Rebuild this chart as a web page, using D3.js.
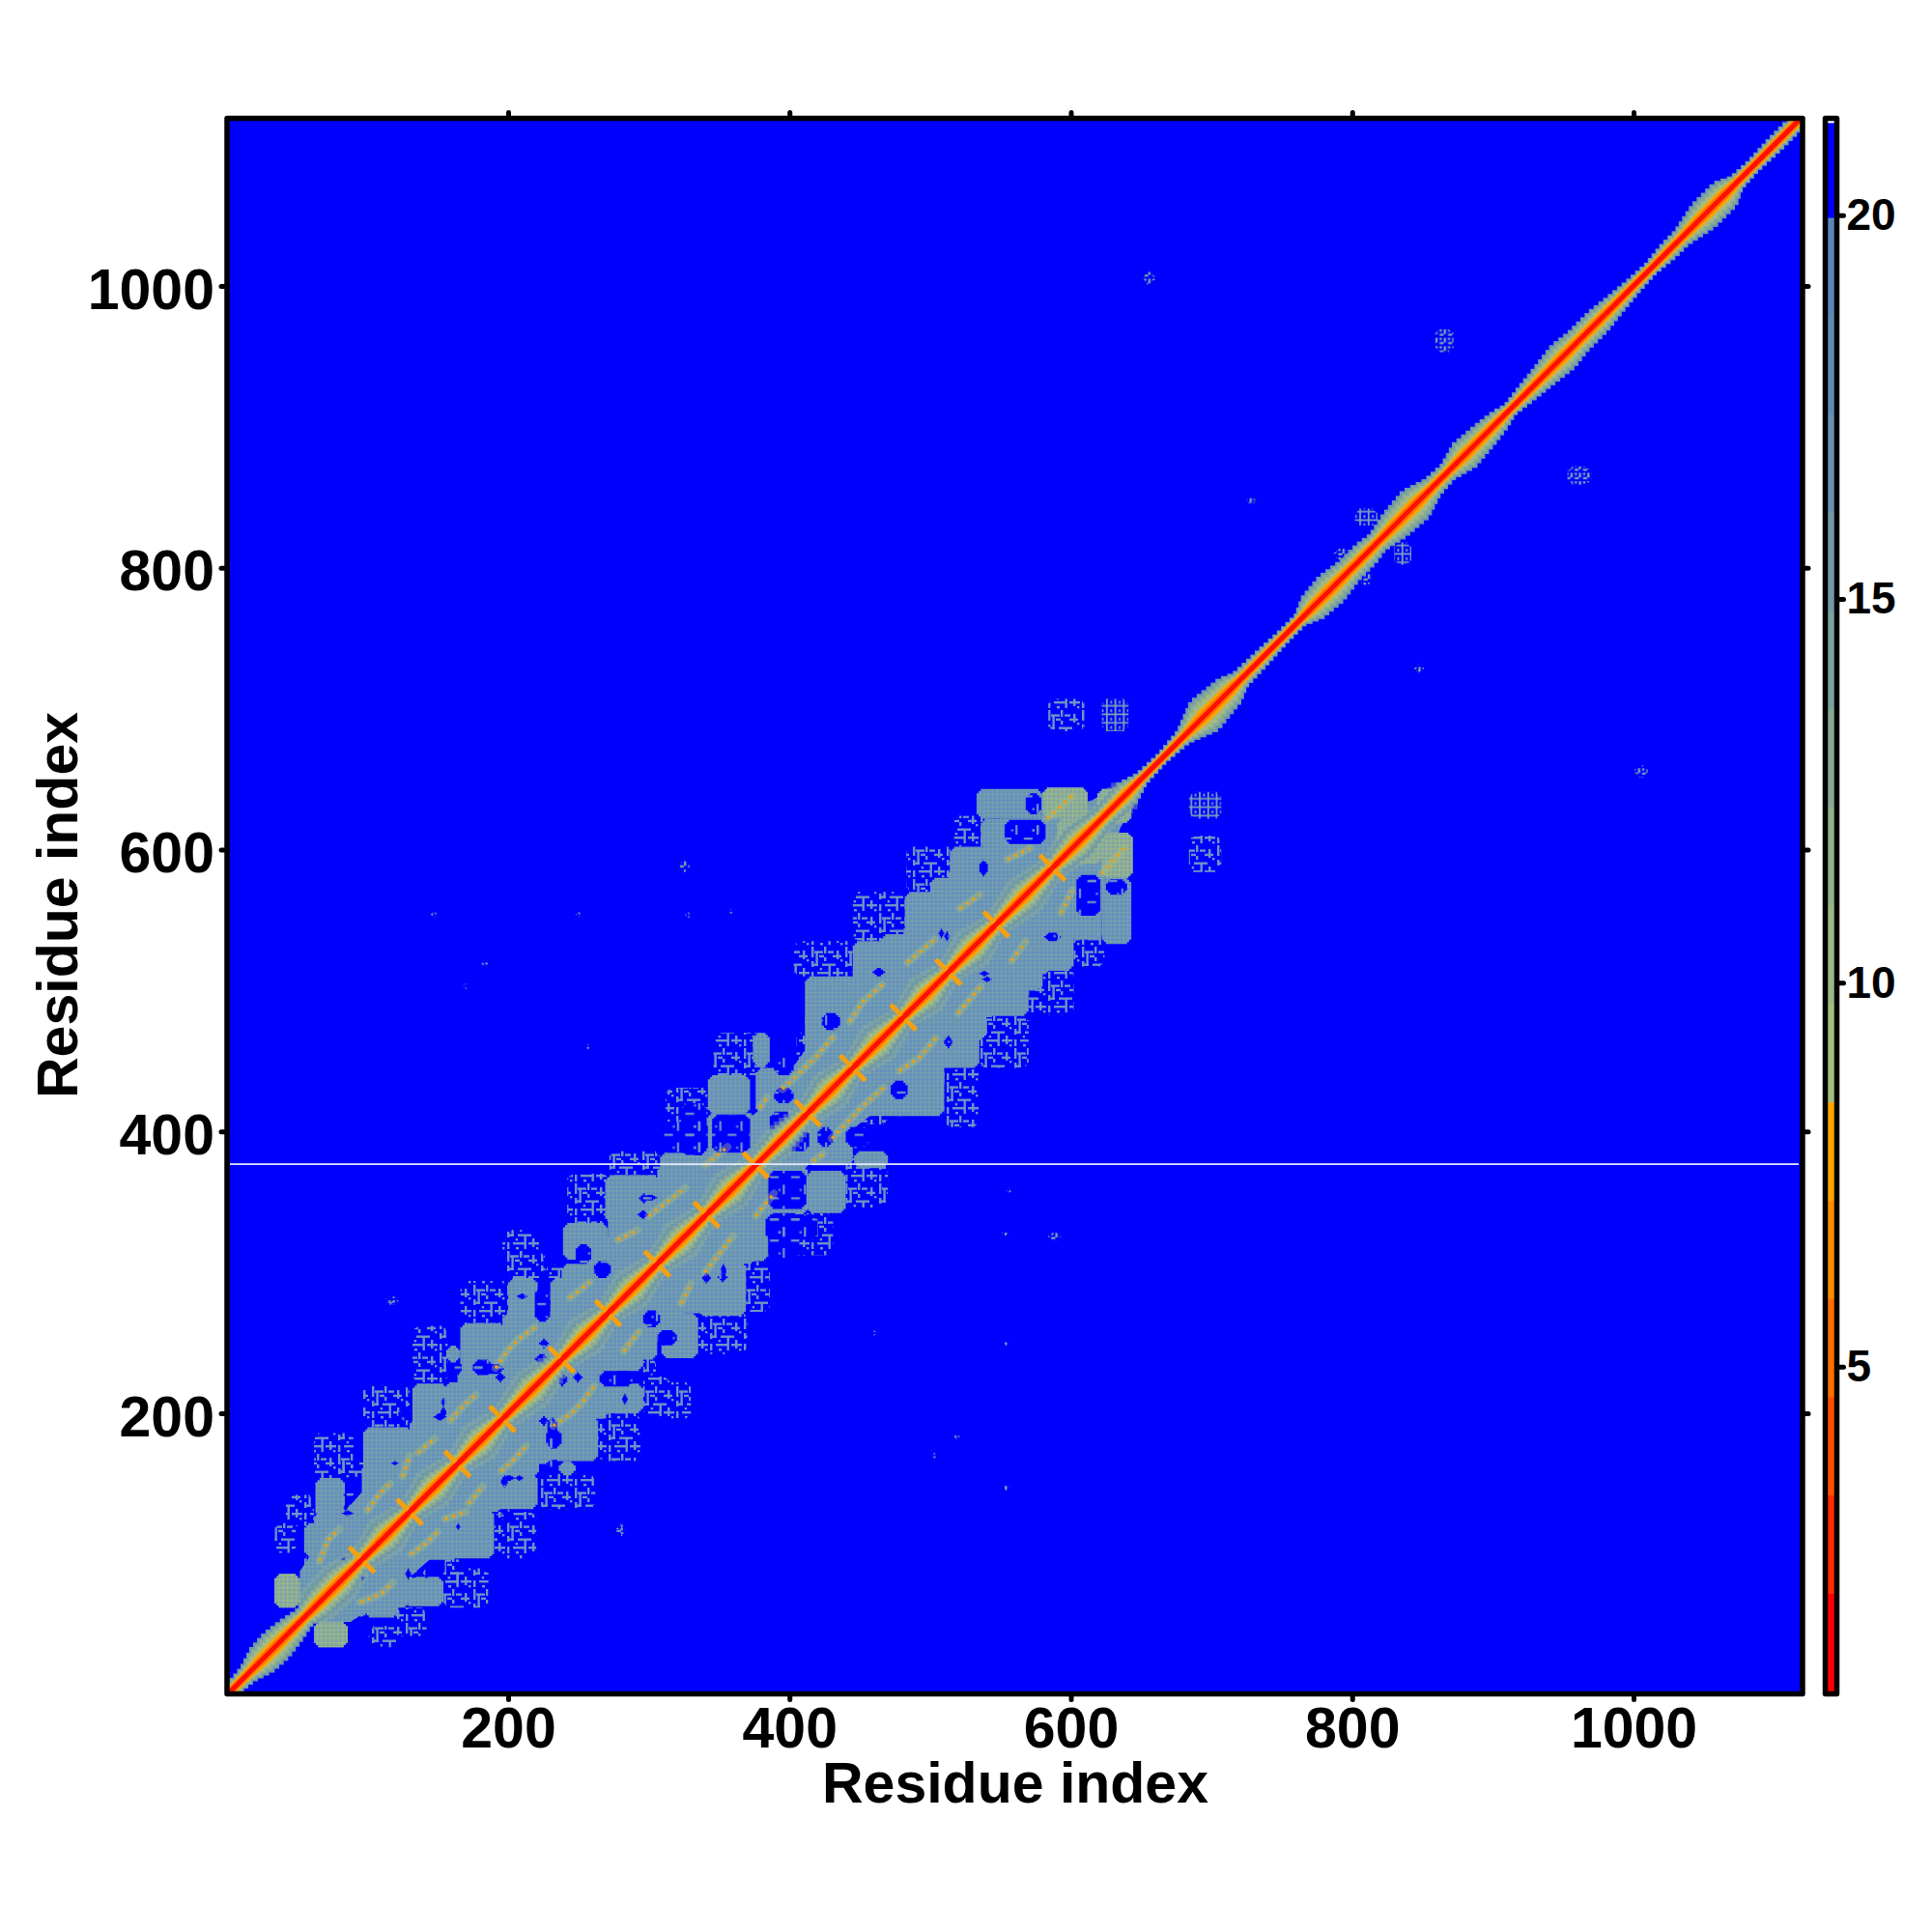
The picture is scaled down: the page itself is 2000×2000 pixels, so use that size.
<!DOCTYPE html>
<html><head><meta charset="utf-8">
<script src="https://cdn.jsdelivr.net/npm/d3@7"></script>
<style>html,body{margin:0;background:#fff}text{font-family:"Liberation Sans",Arial,sans-serif;font-weight:bold;fill:#000}</style>
</head><body><div id="c"></div>
<script>
// ---- data (residue coordinates, upper triangle x<y; the map is symmetric) ----
const xTicks=[200,400,600,800,1000];
const yTicks=[200,400,600,800,1000];
const barTicks=[5,10,15,20];
const barBreaks=[0.77,2.05,3.33,4.61,5.89,7.17,8.45,9.73,11.01,12.29,13.57,14.85,16.13,17.41,18.69,19.97,21.2];
const barColors=["#ff0000","#ff2a00","#ff5000","#ff6e00","#ff8c00","#ffa500","#a3bf7f","#9ab886","#90b08e","#86a896","#7ca09e","#7298a6","#6990ae","#6089b4","#5a86b8","#0000ff"];
const diagT=[1,8,15,25,35,45,55,65,80,96,113,130,147,164,180,196,217,238,255,271,288,306,323,341,358,376,394,413,429,445,463,481,497,513,530,547,567,587,605,622,640,650,665,680,695,713,720,738,750,763,772,785,798,810,818,830,845,857,868,880,895,905,912,922,934,950,960,975,986,1000,1012,1025,1034,1050,1065,1073,1085,1100,1118];
const diagH=[9,8,9,14,15,13,10,14,15,9,15,9,15,9,15,9,15,9,15,9,15,9,15,9,15,9,12,9,15,9,15,9,15,9,15,9,15,9,15,10,12,7,6,8,17,14,9,8,7,7,13,15,12,12,10,14,16,10,9,14,12,10,7,9,11,14,12,12,10,8,7,9,9,14,14,8,7,8,8];
const bodyT=[60,70,90,120,160,200,240,280,320,360,400,440,480,520,560,600,625,640];
const bodyH=[8,18,22,24,26,26,24,24,24,22,18,24,26,26,26,24,10,6];
const lobes=[[55,72,98,122],[63,84,126,154],[68,100,74,131],[84,110,110,135],[97,132,129,190],[110,140,150,180],[132,157,184,221],[155,168,152,222],[140,180,170,205],[166,198,220,264],[156,166,236,248],[175,215,200,245],[200,221,266,296],[230,274,255,296],[215,245,240,262],[239,271,309,335],[255,290,290,325],[269,308,335,369],[271,294,346,366],[290,320,320,350],[308,342,323,385],[342,372,412,440],[330,365,365,395],[374,386,446,470],[411,445,415,483],[385,420,415,440],[411,445,474,510],[445,480,506,535],[430,470,470,510],[482,516,538,570],[465,505,500,540],[514,548,570,602],[500,540,540,580],[533,580,622,643],[580,612,622,644],[619,642,622,643],[536,612,600,622],[545,590,580,610],[34,52,62,86],[48,60,64,80],
 [62,96,96,130],[96,130,130,164],[130,164,164,196],[164,196,196,238],[196,238,238,271],[238,271,271,306],[271,306,306,341],[306,341,341,376],[341,376,376,413],[376,413,413,445],[413,445,445,481],[445,481,481,513],[481,513,513,547],[513,547,547,587],[547,587,587,622]];
const sageLobes=[[34,52,62,86],[580,612,622,644],[619,642,622,643],[590,612,600,622]];
const holes=[[84,90,139,146],[82,90,127,131],[152,156,205,211],[122,132,195,204],[147,156,195,200],[162,167,227,238],[175,189,227,238],[191,198,222,229],[206,214,281,285],[219,230,265,289],[222,229,246,253],[219,229,235,242],[235,241,220,229],[81,86,95,98],[83,86,130,136],[83,90,139,145],[117,122,163,166],[152,156,196,205],[175,197,228,235],[261,273,296,308],[248,259,306,320],[296,306,351,355],[292,300,338,344],[386,402,398,414],[345,372,385,412],[310,342,385,407],[293,300,349,356],[323,341,383,420],[389,403,420,431],[389,403,440,457],[459,468,510,516],[423,436,472,484],[510,514,535,542],[535,541,581,593],[553,582,604,621],[590,608,609,619],[568,581,612,620],[568,579,625,640],[506,510,537,544]];
const fringes=[[34,49,101,122],[62,90,154,186],[97,130,190,220],[132,157,222,262],[166,200,264,294],[198,226,296,315],[113,120,277,284],[312,342,385,431],[346,383,440,470],[242,272,335,370],[272,308,369,386],[196,222,312,330],[383,411,414,448],[403,445,510,535],[445,482,535,570],[483,516,570,602],[517,550,602,624],[584,610,684,707],[42,62,120,142],[55,66,88,100],[76,100,155,165],[226,240,296,305],[405,412,450,470]];
const spots=[[622,641,684,707],[651,660,1001,1010],[859,872,953,970],[725,732,844,851],[802,818,830,842],[787,798,805,814],[322,329,584,593],[145,150,552,556],[248,252,552,556],[356,360,554,558],[181,186,517,521],[168,172,501,505],[115,122,277,283],[551,556,326,330],[255,259,458,462]];
const traces=[[[66,95],[72,110],[80,118]],[[100,131],[108,142],[116,150]],[[125,155],[130,170]],[[136,172],[148,182]],[[159,195],[168,205],[177,213]],[[191,232],[200,245],[207,252],[219,261]],[[244,282],[258,293]],[[278,323],[292,330]],[[300,340],[317,353],[326,360]],[[340,376],[356,389]],[[379,417],[384,424]],[[395,430],[418,452],[431,467]],[[443,478],[452,492],[466,504]],[[484,520],[503,536]],[[521,558],[535,568]],[[555,593],[571,601]],[[583,622],[601,638]]];
const crosses=[96,130,164,196,238,271,306,341,376,413,445,481,513,547,587];
const gapResidue=376.8;

// ---- scales ----
const W=2000,H=2000;
const x=d3.scaleLinear().domain([200,1000]).range([526,1691]);
const y=d3.scaleLinear().domain([200,1000]).range([1463,296]);
const L=235,R=1866,T=122.5,B=1753.5;
const bar=d3.scaleLinear().domain([5,20]).range([1414.7,222.7]);
const hAt=d3.scaleLinear().domain(diagT).range(diagH);
const svg=d3.select("#c").append("svg").attr("width",W).attr("height",H).style("display","block");
svg.append("rect").attr("width",W).attr("height",H).attr("fill","#fff");
const defs=svg.append("defs");
defs.append("clipPath").attr("id","plot").append("rect").attr("x",L).attr("y",T).attr("width",R-L).attr("height",B-T);
function plaid(id,base,line,op){const s=4.37;const p=defs.append("pattern").attr("id",id).attr("patternUnits","userSpaceOnUse").attr("width",s).attr("height",s);
 p.append("rect").attr("width",s).attr("height",s).attr("fill",base);
 p.append("rect").attr("width",s).attr("height",1.2).attr("fill",line).attr("opacity",op);
 p.append("rect").attr("width",1.2).attr("height",s).attr("fill",line).attr("opacity",op);}
plaid("steel","#6290bc","#8fb09a",.42);
plaid("sage","#7ea3a4","#a6bf80",.7);
function sparse(id,c,size,rects){const p=defs.append("pattern").attr("id",id).attr("patternUnits","userSpaceOnUse").attr("width",size).attr("height",size);
 rects.forEach(r=>p.append("rect").attr("x",r[0]).attr("y",r[1]).attr("width",r[2]).attr("height",r[3]).attr("fill",c));}
sparse("fringe","#6d95c4",35,[[0,0,2.4,11],[0,15,2.4,6],[0,26,2.4,7],[4.4,6,2.4,14],[13,0,2.4,7],[13,11,2.4,4],[17.5,18,2.4,15],[26,4,2.4,9],[26,22,2.4,9],[3,4.4,9,2.4],[17,4.4,6,2.4],[0,17.5,7,2.4],[11,17.5,14,2.4],[8,8.7,5,2.4],[22,8.7,9,2.4],[6,26,12,2.4],[22,26,11,2.4],[9,31,3,2.4],[30,13,2.4,2.4],[8.7,22,2.4,2.4],[30,31,2.4,2.4]]);
sparse("spot","#7a9fb4",8.74,[[0,0,1.8,8.74],[0,4.4,8.74,1.8],[4.4,0,1.8,3]]);
sparse("spotDense","#7a9fb4",8.74,[[0,0,2.4,5],[4.4,4.4,4.2,2.4],[4.4,0,2.4,2.4]]);
sparse("holeDots","#6d95c4",21.9,[[0,0,2.2,10],[8.7,13,9,2.2],[17.5,4.4,2.2,2.2]]);

const g=svg.append("g").attr("clip-path","url(#plot)");
g.append("rect").attr("x",L).attr("y",T).attr("width",R-L).attr("height",B-T).attr("fill","#0000ff");
function stepped(r){const [x0,x1,y0,y1]=r;const a=Math.min(1.5,(x1-x0)/5),b=Math.min(1.5,(y1-y0)/5);
 const pts=[[x0+2*a,y0],[x1-2*a,y0],[x1-2*a,y0+b],[x1-a,y0+b],[x1-a,y0+2*b],[x1,y0+2*b],[x1,y1-2*b],[x1-a,y1-2*b],[x1-a,y1-b],[x1-2*a,y1-b],[x1-2*a,y1],[x0+2*a,y1],[x0+2*a,y1-b],[x0+a,y1-b],[x0+a,y1-2*b],[x0,y1-2*b],[x0,y0+2*b],[x0+a,y0+2*b],[x0+a,y0+b],[x0+2*a,y0+b]];
 return "M"+pts.map(p=>x(p[0])+","+y(p[1])).join("L")+"Z";}
const both=a=>a.flatMap(r=>[r,[r[2],r[3],r[0],r[1]]]);
function rects(data,fill){g.append("g").selectAll("path").data(both(data)).join("path").attr("d",stepped).attr("fill",fill);}
rects(fringes,"url(#fringe)");
function band(ts,hs,f){const up=ts.map((t,i)=>[t-f(hs[i])/2,t+f(hs[i])/2]);const lo=ts.map((t,i)=>[t+f(hs[i])/2,t-f(hs[i])/2]).reverse();
 return d3.line().x(d=>x(d[0])).y(d=>y(d[1]))(up.concat(lo))+"Z";}
function stairs(f,fill,lo,hi,op){const ts=d3.range(lo||1,hi||1119,3);
 g.append("g").attr("fill",fill).attr("opacity",op||1).selectAll("rect").data(ts).join("rect")
  .attr("x",t=>x(t-f(hAt(t))/2)).attr("y",t=>y(t+f(hAt(t))/2))
  .attr("width",t=>x(t+f(hAt(t))/2)-x(t-f(hAt(t))/2)).attr("height",t=>y(t-f(hAt(t))/2)-y(t+f(hAt(t))/2));}
g.append("path").attr("d",band(bodyT,bodyH,h=>h*2)).attr("fill","url(#steel)");
rects(lobes,"url(#steel)");
rects(holes,"#0000ff");
rects(holes,"url(#holeDots)");
rects(sageLobes,"url(#sage)");
const big=spots.filter(s=>s[1]-s[0]>15),small=spots.filter(s=>s[1]-s[0]<=15);
rects(big,"url(#spot)");rects(small,"url(#spotDense)");
const traceLine=d3.line().x(d=>x(d[0])).y(d=>y(d[1]));
function both2(a){return a.flatMap(l=>[l,l.map(p=>[p[1],p[0]])]);}
const tr=both2(traces);
stairs(h=>h*1.6,"#8fb09a",62,640,.45);
g.append("g").selectAll("path").data(tr).join("path").attr("d",traceLine).attr("fill","none").attr("stroke","#a8bf78").attr("stroke-width",8).attr("stroke-linecap","round").attr("opacity",.38);
g.append("g").selectAll("path").data(tr).join("path").attr("d",traceLine).attr("fill","none").attr("stroke","#f0a010").attr("stroke-width",3).attr("stroke-dasharray","3 5");
stairs(h=>h*1.3,"#6f98a8");
stairs(h=>h*1.08,"#88aa96");
stairs(h=>h*.85,"#a3bb80");
[[h=>2.6+h*.3,"#ffa500"],[h=>2.8+h*.13,"#ff7a00"],[h=>2.4,"#ff1000"]].forEach(l=>{
 g.append("path").attr("d",band(diagT,diagH,l[0])).attr("fill",l[1]);});
const arm=9;
g.append("g").selectAll("path").data(crosses).join("path")
 .attr("d",c=>`M${x(c-arm)},${y(c+arm)}L${x(c+arm)},${y(c-arm)}`)
 .attr("stroke","#f5a010").attr("stroke-width",5).attr("fill","none");
g.selectAll("path.core").data(crosses).join("path").attr("class","core")
 .attr("d",c=>`M${x(c-4)},${y(c-4)}L${x(c+4)},${y(c+4)}`).attr("stroke","#ff1000").attr("stroke-width",5);
g.append("line").attr("x1",L+3).attr("x2",R-4).attr("y1",y(gapResidue)).attr("y2",y(gapResidue)).attr("stroke","#e8e8ff").attr("stroke-width",1.6);
const tickStyle=(s)=>{s.select(".domain").remove();s.selectAll("line").attr("stroke","#000").attr("stroke-width",5).attr("stroke-linecap","round");};
svg.append("g").attr("transform",`translate(0,${B})`).call(d3.axisBottom(x).tickValues(xTicks).tickSize(6).tickPadding(8).tickFormat(d3.format("d"))).call(tickStyle).selectAll("text").attr("font-size",59).attr("fill","#000");
svg.append("g").attr("transform",`translate(0,${T})`).call(d3.axisTop(x).tickValues(xTicks).tickSize(6).tickFormat("")).call(tickStyle);
svg.append("g").attr("transform",`translate(${L},0)`).call(d3.axisLeft(y).tickValues(yTicks).tickSize(6).tickPadding(7).tickFormat(d3.format("d"))).call(tickStyle).selectAll("text").attr("font-size",59).attr("fill","#000").attr("dy","0.39em");
svg.append("g").attr("transform",`translate(${R},0)`).call(d3.axisRight(y).tickValues(yTicks).tickSize(6).tickFormat("")).call(tickStyle);
svg.append("rect").attr("x",L).attr("y",T).attr("width",R-L).attr("height",B-T).attr("fill","none").attr("stroke","#000").attr("stroke-width",5.5).attr("stroke-linejoin","round");
svg.selectAll("g.tick text").attr("font-family",'"Liberation Sans",Arial,sans-serif').attr("font-weight","bold");
svg.append("text").attr("x",1051).attr("y",1866).attr("text-anchor","middle").attr("font-size",59).text("Residue index");
svg.append("text").attr("transform","translate(80,937) rotate(-90)").attr("text-anchor","middle").attr("font-size",59).text("Residue index");
const bx0=1889.5,bx1=1901.5;
svg.append("g").selectAll("rect").data(barColors).join("rect")
 .attr("x",bx0).attr("width",bx1-bx0)
 .attr("y",(d,i)=>bar(barBreaks[i+1])).attr("height",(d,i)=>bar(barBreaks[i])-bar(barBreaks[i+1])+.5).attr("fill",d=>d);
const ca=svg.append("g").attr("transform",`translate(${bx1},0)`).call(d3.axisRight(bar).tickValues(barTicks).tickSize(7).tickPadding(3).tickFormat(d3.format("d"))).call(tickStyle);
ca.selectAll("text").attr("font-size",46).attr("fill","#000").attr("font-family",'"Liberation Sans",Arial,sans-serif').attr("font-weight","bold");
svg.append("rect").attr("x",bx0).attr("y",T).attr("width",bx1-bx0).attr("height",B-T).attr("fill","none").attr("stroke","#000").attr("stroke-width",5.5).attr("stroke-linejoin","round");
</script></body></html>
